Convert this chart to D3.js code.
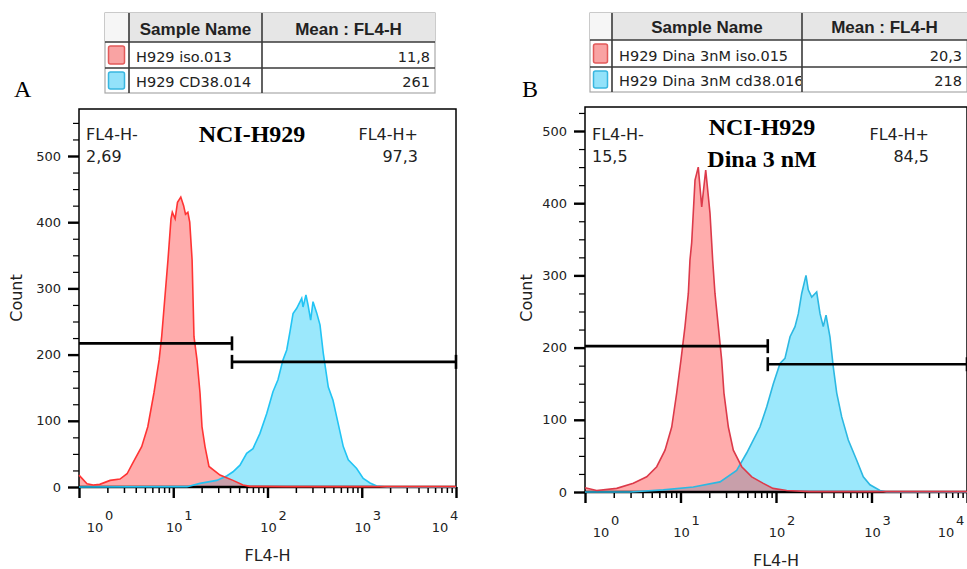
<!DOCTYPE html>
<html>
<head>
<meta charset="utf-8">
<script src="https://cdn.jsdelivr.net/npm/d3@7"></script>
<style>
body { margin: 0; background: #fff; }
svg { display: block; }
</style>
</head>
<body>
<svg id="fig" width="967" height="569"></svg>
<script>
// histogram points: [log10(FL4-H), count]
isoA = [[0,18],[0.085,5],[0.15,3],[0.22,4],[0.33,10],[0.435,12],[0.51,20],[0.57,36],[0.665,61],[0.73,91],
  [0.795,142],[0.85,192],[0.877,227],[0.944,343],[0.976,405],[0.99,415],[1.02,405],[1.045,430],[1.08,438],
  [1.11,425],[1.13,412],[1.155,415],[1.175,400],[1.2,343],[1.22,227],[1.252,192],[1.284,142],[1.305,91],
  [1.337,61],[1.379,31],[1.496,18],[1.634,10],[1.74,3],[1.814,1],[2.2,0.5],[4,0.5]]
cd38A = [[0,0],[1.146,0.5],[1.284,5.5],[1.461,10],[1.567,16.6],[1.634,23],[1.708,33],[1.779,51],[1.846,58],
  [1.92,81],[1.992,111],[2.058,144],[2.111,162],[2.164,192],[2.204,207],[2.239,235],[2.271,262],[2.31,270],
  [2.363,285],[2.377,272],[2.408,290],[2.43,275],[2.458,252],[2.483,280],[2.522,263],[2.557,245],[2.592,202],
  [2.645,151],[2.695,131],[2.734,106],[2.804,61],[2.857,41],[2.946,28],[3.016,13],[3.088,6],[3.159,1.5],
  [3.27,0],[4,0]]
isoB = [[0,6],[0.122,2],[0.332,5],[0.506,12],[0.646,21],[0.751,35],[0.838,58],[0.908,90],[0.96,137],
  [1.005,183],[1.047,229],[1.082,275],[1.099,321],[1.117,345],[1.152,432],[1.186,450],[1.222,395],
  [1.264,446],[1.309,386],[1.337,321],[1.361,275],[1.396,229],[1.431,183],[1.455,137],[1.501,90],
  [1.553,58],[1.641,35],[1.746,21],[1.867,12],[1.969,5],[2.112,2],[2.356,0.5],[4,0.5]]
cd38B = [[0,0],[0.471,0],[0.82,3],[1.134,7],[1.414,14],[1.588,30],[1.693,54],[1.762,72],[1.832,90],
  [1.903,118],[1.972,150],[2.042,178],[2.094,185],[2.147,215],[2.199,229],[2.234,247],[2.269,275],
  [2.314,300],[2.338,280],[2.374,270],[2.426,277],[2.461,247],[2.495,229],[2.524,245],[2.565,215],
  [2.6,173],[2.636,137],[2.688,104],[2.757,72],[2.845,44],[2.914,21],[2.984,10],[3.089,2],[3.159,0],[4,0]]

// gates: split value on FL4-H, height of the FL4-H- and FL4-H+ bars (counts)
gateA = [42, 217, 189]
gateB = [82, 202, 177]

statsA = ["2,69", "97,3"]
statsB = ["15,5", "84,5"]
titleA = ["NCI-H929"]
titleB = ["NCI-H929", "Dina 3 nM"]

legendHead = ["Sample Name", "Mean : FL4-H"]
legendA = [["H929 iso.013", "11,8"], ["H929 CD38.014", "261"]]
legendB = [["H929 Dina 3nM iso.015", "20,3"], ["H929 Dina 3nM cd38.016", "218"]]

yTicks = d3.range(0, 551, 25)
decades = [0, 1, 2, 3, 4]

svg = d3.select("#fig")
sans = "DejaVu Sans"

function isDecade(v){
    return Math.abs(Math.log10(v) - Math.round(Math.log10(v))) < 1e-9
}

function drawPanel(p){
    x = d3.scaleLog().domain([1, 1e4]).range([p.left, p.right])
    y = d3.scaleLinear().domain([0, 500]).range([p.zero, p.y500])
    g = svg.append("g")

    area = d3.area().x(d => x(10 ** d[0])).y0(y(0)).y1(d => y(d[1]))
    line = d3.line().x(d => x(10 ** d[0])).y(d => y(d[1]))

    g.append("path").datum(p.cd38).attr("d", area).attr("fill", "#9be8fc")
    g.append("path").datum(p.iso).attr("d", area).attr("fill", "rgba(255,70,70,0.45)")

    // frame
    g.append("rect").attr("x", p.left).attr("y", p.top)
    .attr("width", p.right - p.left).attr("height", p.zero - p.top)
    .attr("fill", "none").attr("stroke", "#000").attr("stroke-width", 1.5)

    ya = g.append("g").attr("transform", `translate(${p.left},0)`)
    .call(d3.axisLeft(y).tickValues(yTicks.filter(t => y(t) > p.top + 2)).tickFormat(d => d % 100 ? "" : d))
    ya.select(".domain").remove()
    ya.selectAll(".tick line").attr("x2", d => d % 100 ? -6 : -11).attr("stroke-width", d => d % 100 ? 1.2 : 2.4)
    ya.selectAll(".tick text").attr("x", -18).attr("font-family", sans).attr("font-size", 13).attr("fill", "#222")

    xt = []
    decades.slice(0, 4).forEach(e => { for (let k = 1; k < 10; k++) xt.push(k * 10 ** e) })
    xt.push(1e4)
    xa = g.append("g").attr("transform", `translate(0,${p.zero})`)
    .call(d3.axisBottom(x).tickValues(xt).tickFormat(""))
    xa.select(".domain").attr("stroke-width", 2.4).attr("d", `M${p.left},0H${p.right}`)
    xa.selectAll(".tick line")
    .attr("y2", d => isDecade(d) ? 11 : 6)
    .attr("stroke-width", d => isDecade(d) ? 2.4 : 1.5)

    decades.forEach(e => {
        cx = x(10 ** e) + (e === 0 ? 16 : e === 4 ? p.lastShift : 1)
        g.append("text").attr("x", cx).attr("y", p.zero + 45).attr("text-anchor", "middle")
        .attr("font-family", sans).attr("font-size", 13).attr("fill", "#222").text("10")
        g.append("text").attr("x", cx + 10).attr("y", p.zero + 33)
        .attr("font-family", sans).attr("font-size", 13).attr("fill", "#222").text(e)
    })

    g.append("text").attr("x", x(100)).attr("y", p.zero + 74).attr("text-anchor", "middle")
    .attr("font-family", sans).attr("font-size", 16).attr("fill", "#222").text("FL4-H")
    g.append("text").attr("transform", `translate(${p.countX},298) rotate(-90)`).attr("text-anchor", "middle")
    .attr("font-family", sans).attr("font-size", 16).attr("fill", "#222").text("Count")

    // outlines on top
    g.append("path").datum(p.cd38).attr("d", line).attr("fill", "none").attr("stroke", p.blueLine).attr("stroke-width", 1.6)
    g.append("path").datum(p.iso).attr("d", line).attr("fill", "none").attr("stroke", p.redLine).attr("stroke-width", 1.6)

    // gates
    gt = p.gate
    gl = g.append("g").attr("stroke", "#000").attr("stroke-width", 2.6)
    gl.append("line").attr("x1", x(1)).attr("x2", x(gt[0])).attr("y1", y(gt[1])).attr("y2", y(gt[1]))
    gl.append("line").attr("x1", x(gt[0])).attr("x2", x(gt[0])).attr("y1", y(gt[1]) - 7).attr("y2", y(gt[1]) + 7)
    gl.append("line").attr("x1", x(gt[0])).attr("x2", x(1e4)).attr("y1", y(gt[2])).attr("y2", y(gt[2]))
    gl.append("line").attr("x1", x(gt[0])).attr("x2", x(gt[0])).attr("y1", y(gt[2]) - 7).attr("y2", y(gt[2]) + 7)
    gl.append("line").attr("x1", x(1e4)).attr("x2", x(1e4)).attr("y1", y(gt[2]) - 7).attr("y2", y(gt[2]) + 7)

    // gate labels
    lab = g.append("g").attr("font-family", sans).attr("font-size", 16).attr("fill", "#222")
    lab.append("text").attr("x", p.left + 7).attr("y", 140).text("FL4-H-")
    lab.append("text").attr("x", p.left + 7).attr("y", 162).text(p.stats[0])
    lab.append("text").attr("x", p.right - 38).attr("y", 140).attr("text-anchor", "end").text("FL4-H+")
    lab.append("text").attr("x", p.right - 38).attr("y", 162).attr("text-anchor", "end").text(p.stats[1])

    p.title.forEach((t, i) => {
        g.append("text").attr("x", p.titleX).attr("y", p.titleY + i * 32).attr("text-anchor", "middle")
        .attr("font-family", "Liberation Serif").attr("font-weight", "bold").attr("font-size", 24).text(t)
    })
    g.append("text").attr("x", p.letterX).attr("y", 97).attr("font-family", "Liberation Serif")
    .attr("font-size", 24).text(p.letter)
}

function drawLegend(t){
    g = svg.append("g")
    xs = [t.x, t.x + t.cols[0], t.x + t.cols[0] + t.cols[1], t.x + t.cols[0] + t.cols[1] + t.cols[2]]
    ys = [t.y, t.y + t.rows[0], t.y + t.rows[0] + t.rows[1], t.y + t.rows[0] + t.rows[1] + t.rows[2]]
    g.append("rect").attr("x", xs[0]).attr("y", ys[0]).attr("width", xs[3] - xs[0]).attr("height", ys[3] - ys[0])
    .attr("fill", "#fff").attr("stroke", "#a8a8a8").attr("stroke-width", 1.2)
    g.append("rect").attr("x", xs[0]).attr("y", ys[0]).attr("width", t.cols[0]).attr("height", t.rows[0]).attr("fill", "#f6f6f6")
    g.append("rect").attr("x", xs[1]).attr("y", ys[0]).attr("width", xs[3] - xs[1]).attr("height", t.rows[0]).attr("fill", "#e6e6e6")

    grid = g.append("g").attr("stroke", "#3a3a3a").attr("stroke-width", 1.6)
    ;[1, 2].forEach(i => grid.append("line").attr("x1", xs[i]).attr("x2", xs[i]).attr("y1", ys[0]).attr("y2", ys[3]))
    ;[1, 2].forEach(i => grid.append("line").attr("x1", xs[0]).attr("x2", xs[3]).attr("y1", ys[i]).attr("y2", ys[i]))

    ;[0, 1].forEach(i => {
        g.append("text").attr("x", (xs[i + 1] + xs[i + 2]) / 2).attr("y", ys[1] - 7).attr("text-anchor", "middle")
        .attr("font-family", "Liberation Sans").attr("font-weight", "bold").attr("font-size", 17).attr("fill", "#222")
        .text(legendHead[i])
    })

    clipId = "clip" + t.x
    svg.append("clipPath").attr("id", clipId).append("rect")
    .attr("x", xs[1]).attr("y", ys[0]).attr("width", t.cols[1] - 1).attr("height", ys[3] - ys[0])

    sw = [["#f9a3a3", "#e25a5a"], ["#93e2fa", "#38b6e0"]]
    t.rowsData.forEach((r, i) => {
        g.append("rect").attr("x", xs[0] + 3.5).attr("y", ys[i + 1] + 4).attr("width", t.cols[0] - 8).attr("height", t.rows[i + 1] - 8)
        .attr("rx", 2).attr("fill", sw[i][0]).attr("stroke", sw[i][1]).attr("stroke-width", 1.5)
        g.append("text").attr("clip-path", `url(#${clipId})`).attr("x", xs[1] + 7).attr("y", ys[i + 2] - 6)
        .attr("font-family", sans).attr("font-size", 14.5).attr("fill", "#222").text(r[0])
        g.append("text").attr("x", xs[3] - 5).attr("y", ys[i + 2] - 6).attr("text-anchor", "end")
        .attr("font-family", sans).attr("font-size", 14.5).attr("fill", "#222").text(r[1])
    })
}

drawLegend({x: 105, y: 13, cols: [24, 133, 173], rows: [29, 26, 25], rowsData: legendA})
drawLegend({x: 590, y: 13, cols: [22, 190, 165], rows: [27, 27, 25], rowsData: legendB})

drawPanel({left: 79, right: 456, top: 109, zero: 487, y500: 156, iso: isoA, cd38: cd38A, gate: gateA,
    stats: statsA, title: titleA, titleX: 252, titleY: 142, letter: "A", letterX: 14, countX: 22,
    redLine: "#ff3434", blueLine: "#22c4f4", lastShift: -16})
drawPanel({left: 585, right: 967, top: 107, zero: 492, y500: 131, iso: isoB, cd38: cd38B, gate: gateB,
    stats: statsB, title: titleB, titleX: 762, titleY: 135, letter: "B", letterX: 522, countX: 532,
    redLine: "#dc3a4a", blueLine: "#2cb8e2", lastShift: -21})
</script>
</body>
</html>
